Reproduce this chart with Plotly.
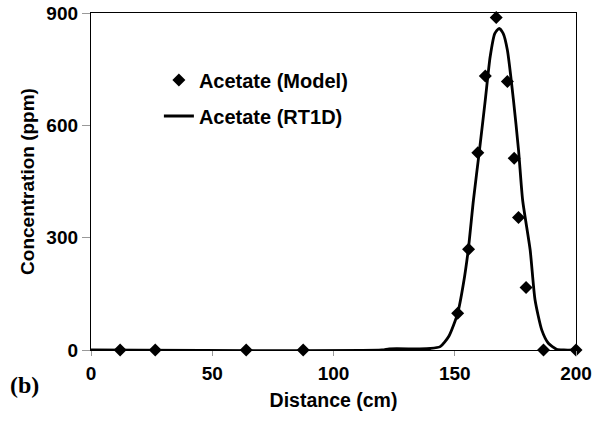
import plotly.graph_objects as go

# Model points (Acetate)
model_x = [12, 26.5, 64, 87.5, 151.2, 155.7, 159.5, 162.6, 167.1, 171.7, 174.5, 176.3, 179.4, 186.6, 200]
model_y = [0, 0, 0, 0, 98, 269, 527, 732, 888, 717, 512, 354, 167, 0, 0]

# RT1D simulated curve
rt_x = [0, 120, 123, 135, 140, 144, 147.5, 151.2, 153.6, 155.6, 157.7, 160.2, 162.6, 164.6,
        166.5, 168.3, 170, 171.7, 174.2, 176.3, 178, 181.1, 183.1, 185.9, 188.6, 192, 195, 200]
rt_y = [0, 0, 3, 3, 4, 9, 36, 98, 178, 269, 400, 534, 668, 783,
        845, 859, 845, 801, 668, 534, 400, 267, 134, 53, 18, 2, 0, 0]

x_ticks = [0, 50, 100, 150, 200]
y_ticks = [0, 300, 600, 900]

font_family = "Liberation Sans, Arial, sans-serif"
bold = dict(family=font_family, weight="bold", color="black")

fig = go.Figure()
fig.add_trace(go.Scatter(
    x=model_x, y=model_y, mode="markers", name="Acetate (Model)",
    marker=dict(symbol="diamond", size=10, color="black"),
    legendgroup="a", cliponaxis=False,
))
fig.add_trace(go.Scatter(
    x=rt_x, y=rt_y, mode="lines", name="Acetate (RT1D)",
    line=dict(color="black", width=2.8, shape="spline", smoothing=0.6),
    legendgroup="b",
))

fig.update_layout(
    width=603, height=421,
    margin=dict(l=91, r=27, t=13, b=71, autoexpand=False),
    paper_bgcolor="white", plot_bgcolor="white",
    font=dict(size=19, **bold),
    showlegend=True,
    legend=dict(
        x=0.14, y=0.859, xanchor="left", yanchor="top",
        bgcolor="rgba(0,0,0,0)", font=dict(size=20, **bold),
        traceorder="grouped", tracegroupgap=7, itemwidth=30,
    ),
    xaxis=dict(
        range=[0, 200], tickvals=x_ticks, ticktext=[str(v) for v in x_ticks],
        showgrid=False, zeroline=False, showline=True, linecolor="black", linewidth=1.3,
        mirror=True, ticks="outside", ticklen=5, tickcolor="#999999",
        ticklabelstandoff=1, automargin=False,
        tickfont=dict(size=19, **bold),
        title=dict(text="Distance (cm)", font=dict(size=19.5, **bold), standoff=10),
    ),
    yaxis=dict(
        range=[0, 900], tickvals=y_ticks, ticktext=[str(v) for v in y_ticks],
        showgrid=False, zeroline=False, showline=True, linecolor="black", linewidth=1.3,
        mirror=True, ticks="outside", ticklen=8, tickcolor="#999999",
        ticklabelstandoff=0, automargin=False,
        tickfont=dict(size=19, **bold),
        title=dict(text="Concentration (ppm)", font=dict(size=19, **bold), standoff=6),
    ),
    annotations=[dict(
        text="(b)", xref="paper", yref="paper", x=-0.172, y=-0.06,
        xanchor="left", yanchor="top", showarrow=False,
        font=dict(family="Liberation Serif, Times New Roman, serif", size=24, weight="bold", color="black"),
    )],
)

fig.write_html("out.html")
